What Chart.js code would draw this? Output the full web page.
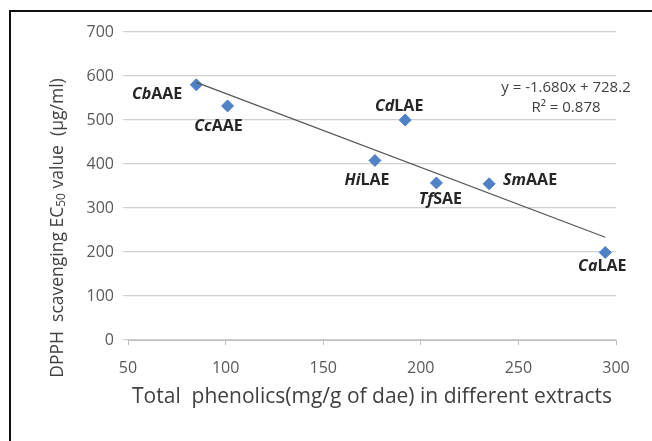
<!DOCTYPE html>
<html>
<head>
<meta charset="utf-8">
<script src="https://cdn.jsdelivr.net/npm/chart.js@4/dist/chart.umd.min.js"></script>
<style>
  html, body { margin: 0; padding: 0; background: #fff; }
  #wrap { width: 652px; height: 441px; }
</style>
</head>
<body>
<div id="wrap"><canvas id="myChart" width="652" height="441"></canvas></div>
<script>
// data
const extractPrefix = ['Cb', 'Cc', 'Cd', 'Hi', 'Tf', 'Sm', 'Ca'];
const extractSuffix = ['AAE', 'AAE', 'LAE', 'LAE', 'SAE', 'AAE', 'LAE'];
const phenolics = [85, 101, 192, 176.5, 208, 235, 294.5];
const ec50 = [580, 532, 500, 408, 357, 355, 199];
const xTicks = [50, 100, 150, 200, 250, 300];
const yTicks = [0, 100, 200, 300, 400, 500, 600, 700];
const slope = -1.680;
const intercept = 728.2;
const rSquared = 0.878;

// where each point label sits relative to its marker (dx, dy, align)
const labelPlace = [
  [-14, 10, 'right'], [-9, 21, 'center'], [-6, -14, 'center'], [-8, 20, 'center'],
  [4, 17, 'center'], [14, -3, 'left'], [-3, 14, 'center']
];

const FONT = "'Open Sans', 'Noto Sans', sans-serif";

const points = phenolics.map((x, i) => ({ x: x, y: ec50[i] }));
const xMin = Math.min(...phenolics), xMax = Math.max(...phenolics);
const trend = [
  { x: xMin, y: slope * xMin + intercept },
  { x: xMax, y: slope * xMax + intercept }
];

const frameAndLabels = {
  id: 'frameAndLabels',
  beforeDraw(chart) {
    const c = chart.ctx;
    c.save();
    c.fillStyle = '#fff';
    c.fillRect(0, 0, chart.width, chart.height);
    c.strokeStyle = '#111';
    c.lineWidth = 2;
    c.beginPath();
    c.moveTo(10, chart.height);
    c.lineTo(10, 11);
    c.lineTo(chart.width, 11);
    c.stroke();
    c.restore();
  },
  afterDraw(chart) {
    const c = chart.ctx;
    const meta = chart.getDatasetMeta(1);
    c.save();
    c.textBaseline = 'middle';
    c.fillStyle = '#262626';
    meta.data.forEach((pt, i) => {
      const pre = extractPrefix[i], suf = extractSuffix[i];
      const [dx, dy, align] = labelPlace[i];
      c.font = 'italic bold 16px ' + FONT;
      const w1 = c.measureText(pre).width;
      c.font = 'bold 16px ' + FONT;
      const w2 = c.measureText(suf).width;
      const w = w1 + w2;
      let left = pt.x + dx;
      if (align === 'center') left -= w / 2;
      else if (align === 'right') left -= w;
      c.textAlign = 'left';
      c.font = 'italic bold 16px ' + FONT;
      c.fillText(pre, left, pt.y + dy);
      c.font = 'bold 16px ' + FONT;
      c.fillText(suf, left + w1, pt.y + dy);
    });

    // trendline equation
    c.fillStyle = '#404040';
    c.font = '15px ' + FONT;
    c.textAlign = 'center';
    c.fillText('y = ' + slope.toFixed(3) + 'x + ' + intercept.toFixed(1), 566, 88);
    c.fillText('R² = ' + rSquared.toFixed(3), 566, 108);

    // y axis title with subscript
    c.save();
    c.translate(58, 228);
    c.rotate(-Math.PI / 2);
    c.fillStyle = '#404040';
    const parts = [['DPPH  scavenging EC', 17.5, 0], ['50', 12, 4], [' value  (µg/ml)', 17.5, 0]];
    let total = 0;
    parts.forEach(p => { c.font = p[1] + 'px ' + FONT; total += c.measureText(p[0]).width; });
    let x = -total / 2;
    c.textAlign = 'left';
    parts.forEach(p => {
      c.font = p[1] + 'px ' + FONT;
      c.fillText(p[0], x, p[2]);
      x += c.measureText(p[0]).width;
    });
    c.restore();
    c.restore();
  }
};

const ctx = document.getElementById('myChart').getContext('2d');
new Chart(ctx, {
  type: 'scatter',
  data: {
    datasets: [
      {
        label: 'Linear trend',
        type: 'line',
        data: trend,
        borderColor: '#555555',
        borderWidth: 1.2,
        pointRadius: 0,
        fill: false
      },
      {
        label: 'Extracts',
        data: points,
        pointStyle: 'rectRot',
        pointRadius: 6,
        backgroundColor: '#4f81c7',
        borderColor: '#4f81c7'
      }
    ]
  },
  options: {
    responsive: false,
    animation: false,
    layout: { padding: { left: 60, top: 32, right: 36, bottom: 27 } },
    plugins: { legend: { display: false }, tooltip: { enabled: false } },
    scales: {
      x: {
        type: 'linear',
        min: 50, max: 300,
        afterBuildTicks: s => { s.ticks = xTicks.map(v => ({ value: v })); },
        afterFit: s => { s.height = 74; },
        grid: { drawOnChartArea: false, drawTicks: true, tickLength: 5, color: '#bfbfbf' },
        border: { color: '#bfbfbf', width: 1 },
        ticks: { color: '#595959', font: { family: FONT, size: 16 }, padding: 14 },
        title: {
          display: true,
          text: 'Total  phenolics(mg/g of dae) in different extracts',
          color: '#404040',
          font: { family: FONT, size: 21 },
          padding: { top: 4, bottom: 4 }
        }
      },
      y: {
        min: 0, max: 700,
        afterBuildTicks: s => { s.ticks = yTicks.map(v => ({ value: v })); },
        afterFit: s => { s.width = 68; },
        grid: { color: '#d0d0d0', lineWidth: 1.2, tickLength: 5 },
        border: { display: false },
        ticks: { color: '#595959', font: { family: FONT, size: 16 }, padding: 9 }
      }
    }
  },
  plugins: [frameAndLabels]
});
</script>
</body>
</html>
